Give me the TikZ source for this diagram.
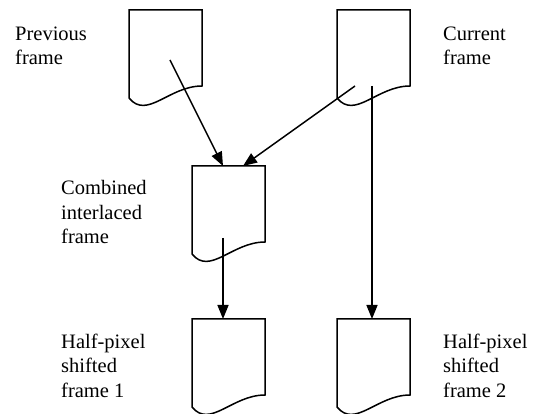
\documentclass[tikz,border=0pt]{standalone}
\usepackage{fontspec}
\setmainfont{Liberation Serif}
\usetikzlibrary{arrows.meta,calc}
\tikzset{
  docline/.style={line width=1.5pt, line join=miter},
  conn/.style={line width=1.5pt, -{Triangle[length=14pt,width=11pt]}},
  lbl/.style={anchor=base west, align=left, inner sep=0pt,
    font=\fontsize{20.5pt}{24.5pt}\selectfont},
}
% document shape: top-left at (#1,#2), width 73
\newcommand{\docshape}[3]{%
  \coordinate (#3) at (#1,#2);
  \draw[docline] ($(#3)+(0,88)$) -- (#3) -- ++(73,0) -- ++(0,76)
    .. controls ($(#3)+(40,76)$) and ($(#3)+(18,110)$) .. ($(#3)+(0,88)$);
}
\begin{document}
\begin{tikzpicture}[x=1pt,y=-1pt]
\useasboundingbox (0,0) rectangle (536,414);
\docshape{129}{10}{prev}
\docshape{337}{10}{cur}
\docshape{192}{166}{comb}
\docshape{192}{319}{half1}
\docshape{337}{319}{half2}

\node[lbl] (prevlbl) at (15,65) {Previous\\frame};
\node[lbl] (curlbl) at (443,65) {Current\\frame};
\node[lbl] (comblbl) at (61,244) {Combined\\interlaced\\frame};
\node[lbl] (half1lbl) at (61,397) {Half-pixel\\shifted\\frame 1};
\node[lbl] (half2lbl) at (443,397) {Half-pixel\\shifted\\frame 2};

\coordinate (p1) at ($(prev)+(41,50)$);
\coordinate (c1) at ($(cur)+(18,76)$);
\coordinate (c2) at ($(cur)+(35,76)$);
\coordinate (combin1) at ($(comb)+(31,0)$);
\coordinate (combin2) at ($(comb)+(51,0)$);
\coordinate (combout) at ($(comb)+(31,72)$);
\coordinate (h1in) at ($(half1)+(31,0)$);
\coordinate (h2in) at ($(half2)+(35,0)$);

\draw[conn] (p1) -- (combin1);
\draw[conn] (c1) -- (combin2);
\draw[conn] (c2) -- (h2in);
\draw[conn] (combout) -- (h1in);
\end{tikzpicture}
\end{document}
